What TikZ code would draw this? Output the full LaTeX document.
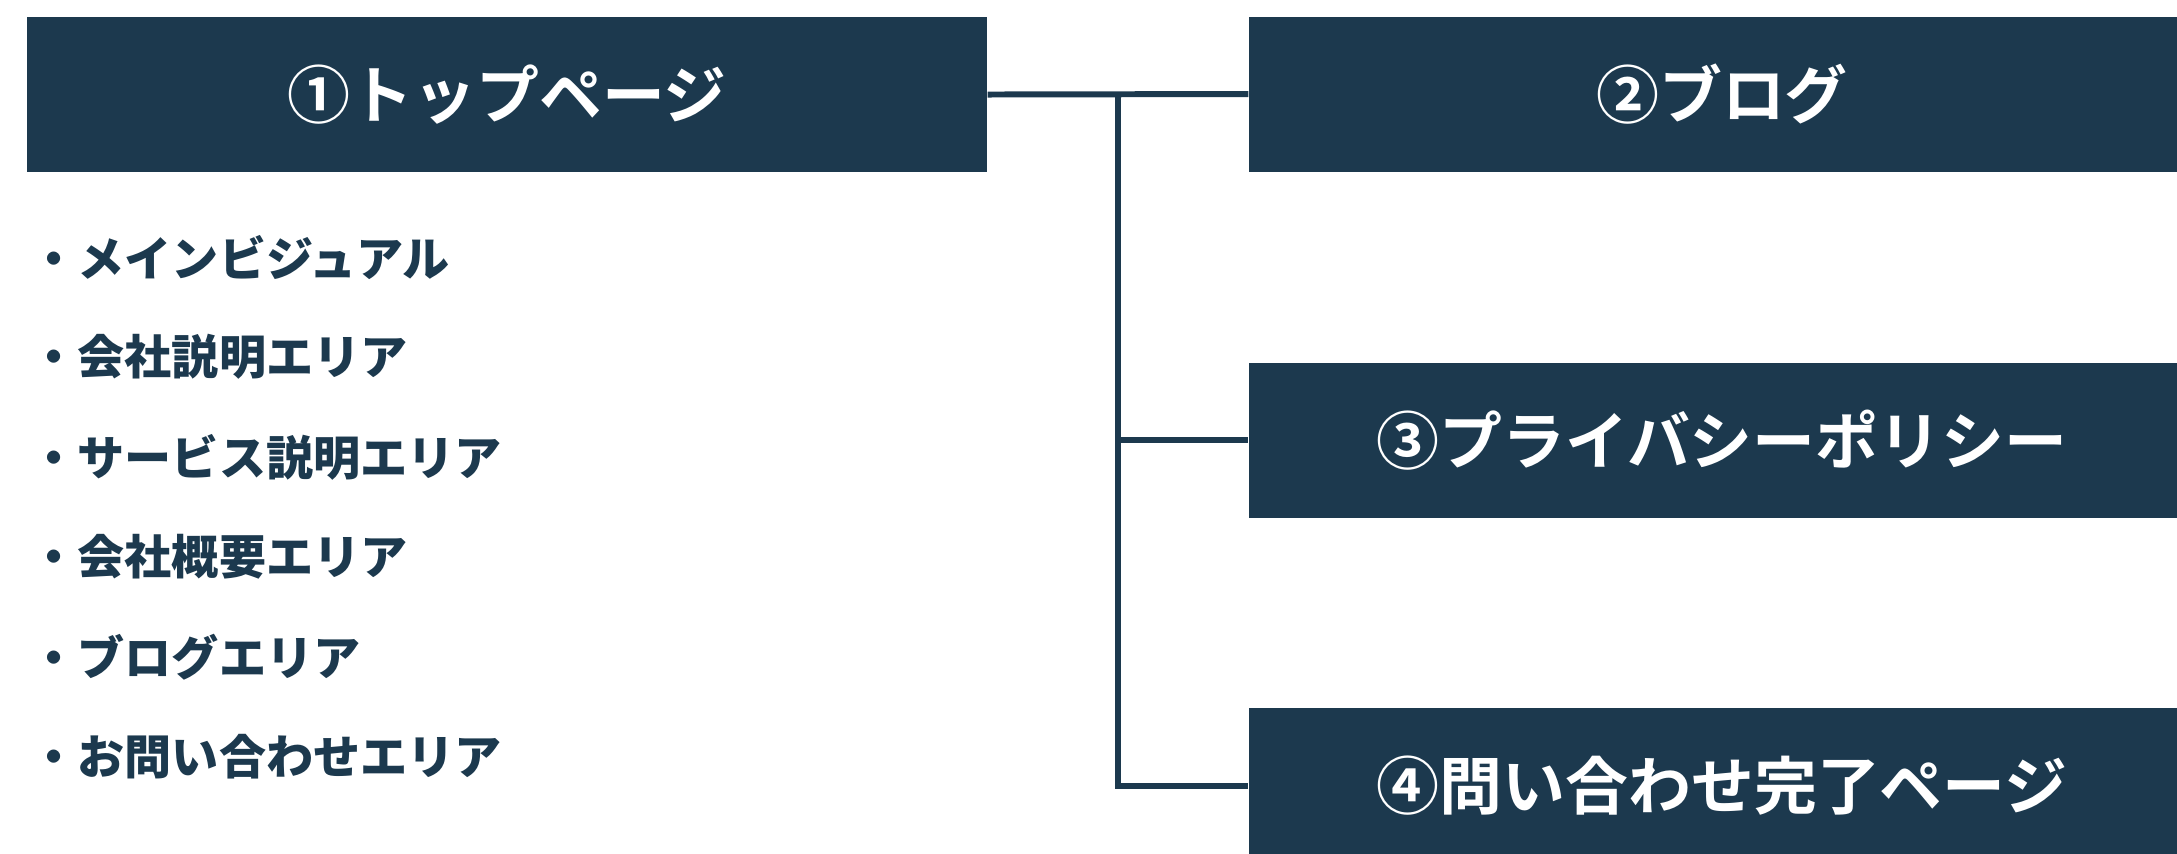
\documentclass[tikz,border=0pt]{standalone}
\usepackage{fontspec}
\newfontfamily\jpfont{Noto Sans CJK JP Bold}
\newfontfamily\jpheavy{Noto Sans CJK JP Black}
\definecolor{navy}{RGB}{28,57,78}

\begin{document}
\begin{tikzpicture}[
	page/.style={fill=navy, text=white, minimum height=1.55cm, inner sep=0pt,
		font=\jpfont\fontsize{17.9}{20}\selectfont},
	item/.style={anchor=west, inner sep=0pt, text=navy,
		font=\jpheavy\fontsize{13.4}{16}\selectfont},
	link/.style={navy, line width=1.7pt},
]

	\clip (0,0) rectangle (21.77,-8.53);

	% === NODES === (((
	\node[page, minimum width=9.60cm] (top) at (5.07,-0.945) {①トップページ};

	\node[page, minimum width=9.46cm] (blog) at (17.22,-0.94) {②ブログ};
	\node[page, minimum width=9.46cm] (policy) at (17.22,-4.40) {③プライバシーポリシー};
	\node[page, minimum width=9.46cm] (thanks) at (17.22,-7.855) {④問い合わせ完了ページ};

	\node[item] (visual) at (0.30,-2.57) {・メインビジュアル};
	\node[item] (about) at (0.30,-3.57) {・会社説明エリア};
	\node[item] (service) at (0.30,-4.57) {・サービス説明エリア};
	\node[item] (profile) at (0.30,-5.57) {・会社概要エリア};
	\node[item] (blogarea) at (0.30,-6.57) {・ブログエリア};
	\node[item] (contact) at (0.30,-7.57) {・お問い合わせエリア};

	\coordinate (hub) at (11.18,-0.95);
	% )))

	% === LINES === (((
	\draw[link] (top.east) -- (blog.west);
	\draw[link] (hub) |- (policy.west);
	\draw[link] (hub) |- (thanks.west);
	% )))

\end{tikzpicture}
\end{document}
